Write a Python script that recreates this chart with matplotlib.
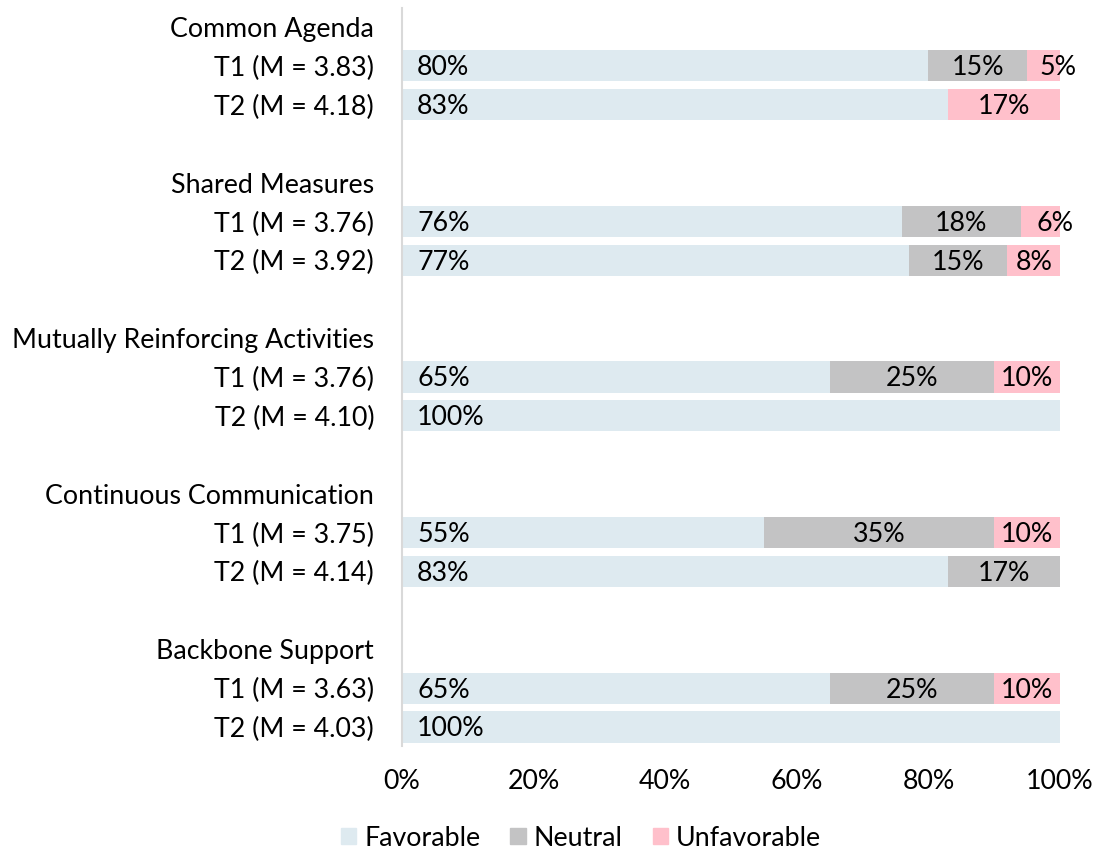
import matplotlib.pyplot as plt
import numpy as np

plt.rcParams["font.family"] = ["Lato", "DejaVu Sans"]

groups = ["Common Agenda", "Shared Measures", "Mutually Reinforcing Activities",
          "Continuous Communication", "Backbone Support"]
t1_means = [3.83, 3.76, 3.76, 3.75, 3.63]
t2_means = [4.18, 3.92, 4.10, 4.14, 4.03]

# percentages per group: (T1, T2)
favorable = [(80, 83), (76, 77), (65, 100), (55, 83), (65, 100)]
neutral = [(15, 0), (18, 15), (25, 0), (35, 17), (25, 0)]
unfavorable = [(5, 17), (6, 8), (10, 0), (10, 0), (10, 0)]

FAV_COLOR = "#DEEAF0"
NEU_COLOR = "#C3C3C4"
UNF_COLOR = "#FFC0CB"
FS = 19.3

fig = plt.figure(figsize=(10.96, 8.55), dpi=100)
ax = fig.add_axes([0.3668, 0.127, 0.6004, 0.8641])

labels = []
ypos = []
row = 0
for gi, g in enumerate(groups):
    labels.append(g)
    ypos.append(row)
    for ti, m in enumerate([t1_means[gi], t2_means[gi]]):
        y = row + 1 + ti
        labels.append(f"T{ti + 1} (M = {m:.2f})")
        ypos.append(y)
        f = favorable[gi][ti]
        n = neutral[gi][ti]
        u = unfavorable[gi][ti]
        ax.barh(y, f, left=0, height=0.8, color=FAV_COLOR, linewidth=0)
        ax.text(2.3, y + 0.05, f"{f}%", ha="left", va="center", fontsize=FS)
        if n:
            ax.barh(y, n, left=f, height=0.8, color=NEU_COLOR, linewidth=0)
            ax.text(f + n / 2, y + 0.05, f"{n}%", ha="center", va="center", fontsize=FS)
        if u:
            ax.barh(y, u, left=f + n, height=0.8, color=UNF_COLOR, linewidth=0)
            # very small segments: Excel pushes the label a bit to the right
            ux = f + n + u / 2 if u >= 8 else f + n + u / 2 + 2.2
            ax.text(ux, y + 0.05, f"{u}%", ha="center", va="center", fontsize=FS)
    row += 4

ax.set_ylim(row - 1 - 0.5, -0.5)
ax.set_xlim(0, 100)
ax.set_yticks(ypos)
ax.set_yticklabels(labels, fontsize=FS)
ax.set_xticks(np.arange(0, 101, 20))
ax.set_xticklabels([f"{v}%" for v in range(0, 101, 20)], fontsize=FS)
ax.tick_params(axis="y", length=0, pad=20)
ax.tick_params(axis="x", length=0, pad=16)

for side in ["top", "right", "bottom"]:
    ax.spines[side].set_visible(False)
ax.spines["left"].set_color("#D9D9D9")
ax.spines["left"].set_linewidth(1.5)

handles = [plt.Rectangle((0, 0), 1, 1, color=c) for c in (FAV_COLOR, NEU_COLOR, UNF_COLOR)]
fig.legend(handles, ["Favorable", "Neutral", "Unfavorable"], loc="center",
           bbox_to_anchor=(581 / 1096, 1 - 838 / 855), ncol=3, frameon=False,
           fontsize=FS, handlelength=0.57, handleheight=0.57, handletextpad=0.3,
           columnspacing=1.12)

fig.savefig("out.png", dpi=100, facecolor="white")
